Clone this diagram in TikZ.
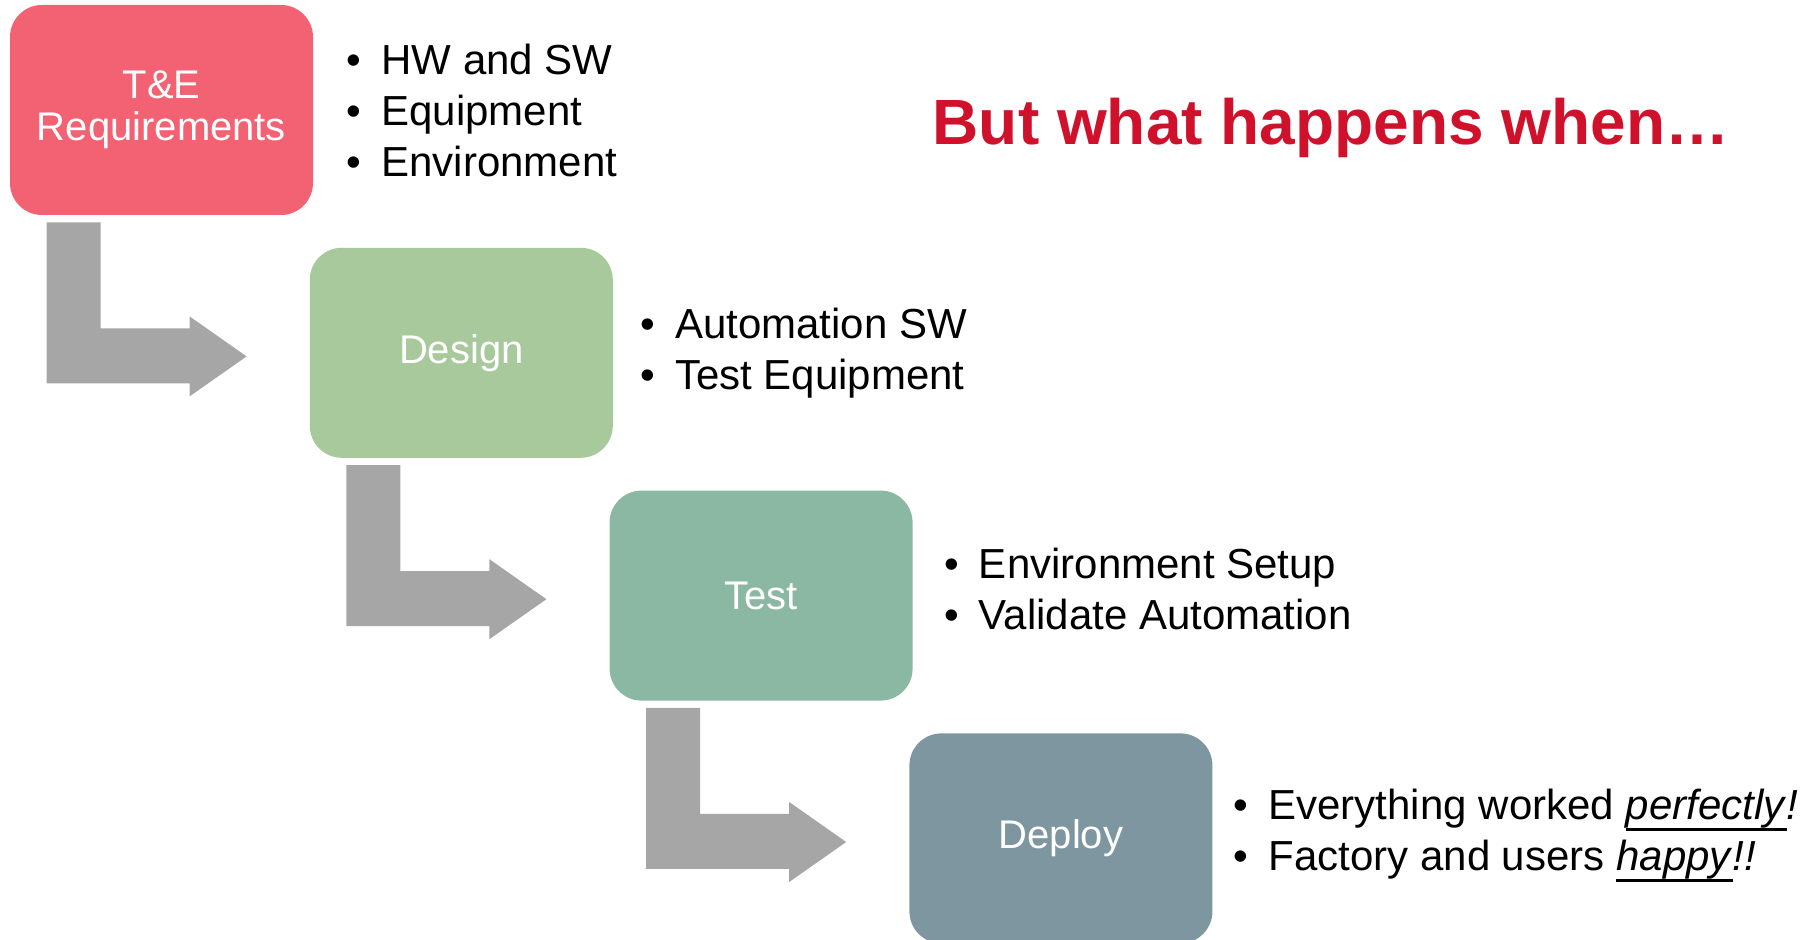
\documentclass[tikz,border=0pt]{standalone}
\usepackage{fontspec}
\setmainfont{Liberation Sans}
\usetikzlibrary{positioning}
\definecolor{reqred}{RGB}{242,98,114}
\definecolor{designgreen}{RGB}{168,201,155}
\definecolor{testgreen}{RGB}{138,184,162}
\definecolor{deploygray}{RGB}{125,150,160}
\definecolor{arrowgray}{RGB}{166,166,166}
\definecolor{titlered}{RGB}{208,17,43}
\tikzstyle{block} = [rectangle, rounded corners=16pt, minimum width=151.5pt,
    minimum height=105pt, text=white, align=center, font=\fontsize{20}{21}\selectfont]
\tikzstyle{points} = [align=left, inner sep=0pt, font=\fontsize{21}{25.5}\selectfont]
\tikzstyle{headline} = [font=\fontsize{32}{32}\selectfont\bfseries, text=titlered]
\tikzset{bend arrow/.pic={
    \fill [arrowgray] (37,7) -- (91,7) -- (91,113) -- (180,113) -- (180,101)
      -- (237,141) -- (180,181) -- (180,168) -- (37,168) -- cycle;
  }}
\newcommand{\bul}{\makebox[17.5pt][l]{•}}
\newcommand{\undl}[1]{\setbox0\hbox{#1}\rlap{\rule[-5.4pt]{\wd0}{1.2pt}}\box0}

\begin{document}
\begin{tikzpicture}[x=0.5pt, y=-0.5pt]
  \useasboundingbox (0,0) rectangle (1812,940);
   % Place nodes
    \node [block, fill=reqred] (req) at (161.5,110) {T\&E\\Requirements};
    \node [block, fill=designgreen, below right=16pt and -2pt of req] (design) {Design};
    \node [block, fill=testgreen, below right=16pt and -2pt of design] (test) {Test};
    \node [block, fill=deploygray, below right=16pt and -2pt of test] (deploy) {Deploy};
   % Bullet lists
    \node [points, right=16.3pt of req] (reqlist) {\bul HW and SW\\ \bul Equipment\\ \bul Environment};
    \node [points, right=13.3pt of design] (designlist) {\bul Automation SW\\ \bul Test Equipment};
    \node [points, right=15.3pt of test, yshift=3.5pt] (testlist) {\bul Environment Setup\\ \bul Validate Automation};
    \node [points, right=10.2pt of deploy, yshift=1.5pt] (deploylist) {\bul Everything worked \undl{\textit{perfectly}}\textit{!}\\
      \bul Factory and users \undl{\textit{happy}}\textit{!!}};
    \node [headline] (question) at (1331,128) {But what happens when…};
   % Draw arrows
    \foreach \from in {req, design, test}
      \path (\from.south west) pic {bend arrow};
  \end{tikzpicture}
\end{document}
